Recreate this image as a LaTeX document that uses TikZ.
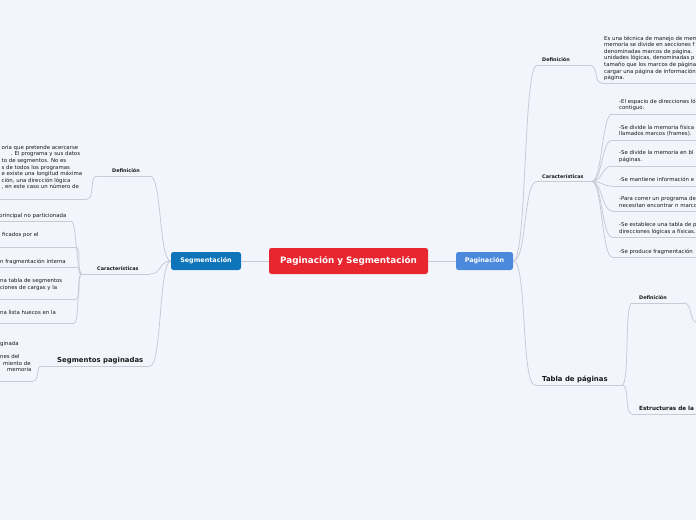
\documentclass[tikz,border=0pt]{standalone}
\usepackage{fontspec}
\setmainfont{DejaVu Sans}
\definecolor{bgc}{RGB}{243,245,253}
\definecolor{linec}{RGB}{200,203,212}
\definecolor{redc}{RGB}{232,38,48}
\definecolor{segc}{RGB}{14,117,186}
\definecolor{pagc}{RGB}{74,137,220}
\definecolor{txtc}{RGB}{25,25,25}
\tikzset{
  conn/.style={draw=linec, line width=0.8pt},
  body/.style={font=\fontsize{5.4}{6.6}\selectfont, text=txtc, inner sep=0pt, align=left, anchor=north west},
  lab/.style={font=\fontsize{4.9}{6}\selectfont\bfseries, text=txtc, inner sep=0pt, anchor=base west},
  bigl/.style={font=\fontsize{6.9}{8}\selectfont\bfseries, text=txtc, inner sep=0pt, anchor=base west},
  topicbox/.style={rounded corners=2.5pt, text=white, inner sep=0pt, minimum height=18pt, font=\fontsize{6.4}{7}\selectfont\bfseries}
}
\begin{document}
\begin{tikzpicture}[x=1pt,y=-1pt]
\useasboundingbox (0,0) rectangle (696,520);
\fill[bgc] (0,0) rectangle (696,520);
\clip (0,0) rectangle (696,520);

% main nodes
\node[topicbox, fill=redc, minimum width=159pt, minimum height=26pt, font=\fontsize{8.8}{10}\selectfont\bfseries] (root) at (348.5,261) {Paginación y Segmentación};
\node[topicbox, fill=segc, minimum width=70pt] (seg) at (206,261) {Segmentación};
\node[topicbox, fill=pagc, minimum width=57pt] (pag) at (484.5,261) {Paginación};
\draw[conn] (root.west) -- (seg.east);
\draw[conn] (root.east) -- (pag.west);

% ---------- right side ----------
\node[lab] (rdef) at (542,61) {Definición};
\coordinate (rdefL) at (537,65.5);
\coordinate (rdefR) at (590,65.5);
\draw[conn] (rdefL) -- (rdefR);
\draw[conn] (pag.east) .. controls +(14,0) and +(-14,0) .. (rdefL);

\node[body] (rdeft) at (604,35.5) {Es una técnica de manejo de mem\\memoria se divide en secciones f\\denominadas marcos de página.\\unidades lógicas, denominadas p\\tamaño que los marcos de página\\cargar una página de información\\página.};
\coordinate (rdeftL) at (602,83);
\coordinate (rdeftR) at (700,83);
\draw[conn] (rdeftL) -- (rdeftR);
\draw[conn] (rdefR) .. controls +(9,0) and +(-9,0) .. (rdeftL);

\node[lab] (rcar) at (542,178) {Características};
\coordinate (rcarL) at (537,181.5);
\coordinate (rcarR) at (592,181.5);
\draw[conn] (rcarL) -- (rcarR);
\draw[conn] (pag.east) .. controls +(14,0) and +(-14,0) .. (rcarL);

\node[body] (rc1) at (619,98.5) {-El espacio de direcciones ló\\contiguo.};
\node[body] (rc2) at (619,124.5) {-Se divide la memoria física\\llamados marcos (frames).};
\node[body] (rc3) at (619,150.5) {-Se divide la memoria en bl\\páginas.};
\node[body] (rc4) at (619,176.5) {-Se mantiene información e};
\node[body] (rc5) at (619,196.5) {-Para correr un programa de\\necesitan encontrar n marco};
\node[body] (rc6) at (619,222.5) {-Se establece una tabla de p\\direcciones lógicas a físicas.};
\node[body] (rc7) at (619,248.5) {-Se produce fragmentación};
\foreach \yy/\nm in {114/a,140/b,166/c,186/d,211/e,237/f,257/g}{
  \coordinate (rcl\nm) at (612,\yy);
  \coordinate (rcr\nm) at (700,\yy);
  \draw[conn] (rcl\nm) -- (rcr\nm);
  \draw[conn] (rcarR) .. controls +(10,0) and +(-10,0) .. (rcl\nm);
}

\node[bigl] (rtab) at (542,381) {Tabla de páginas};
\coordinate (rtabL) at (535,385);
\coordinate (rtabR) at (622,385);
\draw[conn] (rtabL) -- (rtabR);
\draw[conn] (pag.east) .. controls +(14,0) and +(-14,0) .. (rtabL);

\node[lab] (tdef) at (639,299) {Definición};
\coordinate (tdefL) at (632,303);
\coordinate (tdefR) at (684,303);
\draw[conn] (tdefL) -- (tdefR);
\draw[conn] (rtabR) .. controls +(8,0) and +(-8,0) .. (tdefL);
\coordinate (tdefc) at (696,322);
\draw[conn] (tdefR) .. controls +(8,0) and +(-6,0) .. (tdefc) -- +(10,0);

\node[lab, font=\fontsize{5.7}{7}\selectfont\bfseries] (test) at (639,410) {Estructuras de la};
\coordinate (testL) at (632,414);
\coordinate (testR) at (700,414);
\draw[conn] (testL) -- (testR);
\draw[conn] (rtabR) .. controls +(8,0) and +(-8,0) .. (testL);

% ---------- left side ----------
\node[lab] (ldef) at (112,172) {Definición};
\coordinate (ldefL) at (97,176);
\coordinate (ldefR) at (150,176);
\draw[conn] (ldefL) -- (ldefR);
\draw[conn] (seg.west) .. controls +(-12,0) and +(12,0) .. (ldefR);

\node[body] (ldeft) at (1.5,144.5) {\begin{tabular}{@{}l@{}}oria que pretende acercarse\\\hspace*{9pt}. El programa y sus datos\\to de segmentos. No es\\s de todos los programas\\e existe una longitud máxima\\ción, una dirección lógica\\, en este caso un número de\end{tabular}};
\coordinate (ldeftL) at (-5,199);
\coordinate (ldeftR) at (87,199);
\draw[conn] (ldeftL) -- (ldeftR);
\draw[conn] (ldefL) .. controls +(-8,0) and +(8,0) .. (ldeftR);

\node[lab] (lcar) at (97,270) {Características};
\coordinate (lcarL) at (82,274);
\coordinate (lcarR) at (150,274);
\draw[conn] (lcarL) -- (lcarR);
\draw[conn] (seg.west) .. controls +(-12,0) and +(12,0) .. (lcarR);

\node[body] (lc1) at (-1,213.5) {principal no particionada};
\node[body] (lc2) at (2,232.5) {ficados por el};
\node[body] (lc3) at (0,258.5) {n fragmentación interna};
\node[body] (lc4) at (0,278.5) {na tabla de segmentos\\ciones de cargas y la};
\node[body] (lc5) at (0,310.5) {na lista huecos en la};
\foreach \yy/\xx/\nm in {221/71/a,247.5/76/b,267/76/c,299/76/d,323/74/e}{
  \coordinate (lcl\nm) at (-5,\yy);
  \coordinate (lcr\nm) at (\xx,\yy);
  \draw[conn] (lcl\nm) -- (lcr\nm);
  \draw[conn] (lcarL) .. controls +(-6,0) and +(6,0) .. (lcr\nm);
}

\node[bigl] (lsp) at (57,362) {Segmentos paginadas};
\coordinate (lspL) at (42,366);
\coordinate (lspR) at (150,366);
\draw[conn] (lspL) -- (lspR);
\draw[conn] (seg.west) .. controls +(-12,0) and +(12,0) .. (lspR);

\node[body] (lspt) at (0,340.5) {\begin{tabular}{@{}l@{}}ginada\\[6.6pt]nes del\\\hspace*{3pt}miento de\\\hspace*{7pt}memoria\end{tabular}};
\coordinate (lsptL) at (-5,381);
\coordinate (lsptR) at (33,381);
\draw[conn] (lsptL) -- (lsptR);
\draw[conn] (lspL) .. controls +(-7,0) and +(7,0) .. (lsptR);
\end{tikzpicture}
\end{document}
